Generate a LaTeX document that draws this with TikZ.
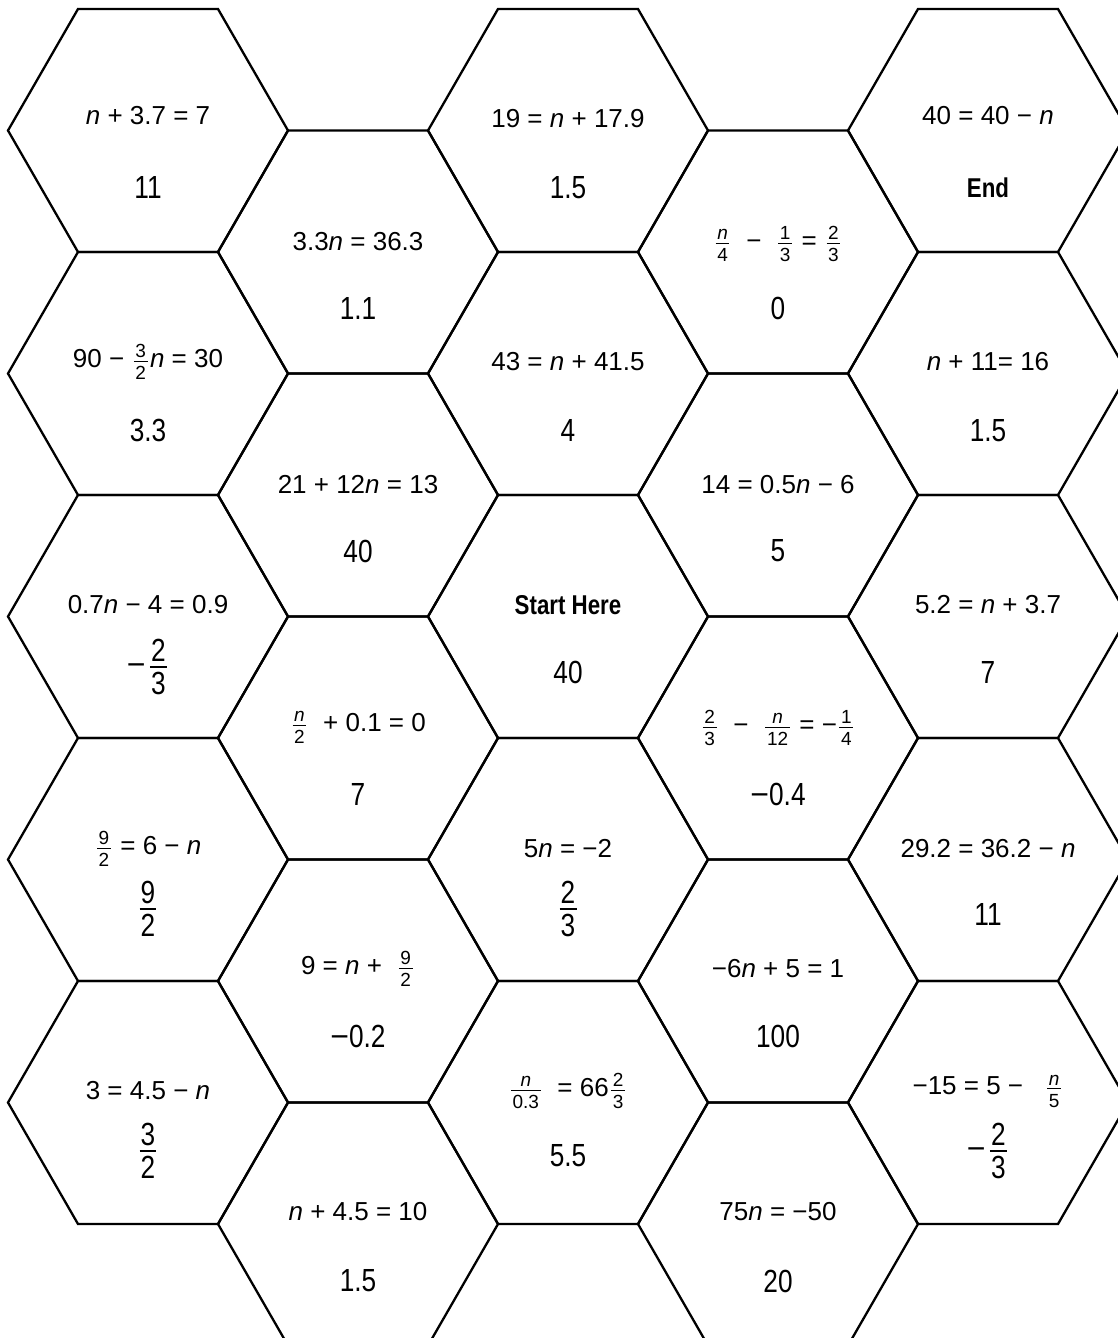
\documentclass[tikz,border=0pt]{standalone}
\usepackage{amsmath}
\usepackage{fontspec}
\setmainfont{Liberation Sans}
\newfontfamily\narrowfont{Liberation Sans}[FakeStretch=0.82]
\usepackage{tikz}

\newcommand\nv{\textit{n}}
% wide minus for the answers
\newcommand\amin{{\rmfamily −}}
% small fraction inside an equation
\newcommand\fr[2]{$\genfrac{}{}{0.5pt}{1}%
  {\hbox{\fontsize{9.5}{11}\selectfont\kern0.8pt#1\kern0.8pt}\rule[-1.2pt]{0pt}{0pt}}%
  {\hbox{\fontsize{9.5}{11}\selectfont\kern0.8pt#2\kern0.8pt\rule{0pt}{8.3pt}}}$}
% full size fraction as an answer
\newcommand\bigfr[2]{$\genfrac{}{}{0.8pt}{1}%
  {\hbox{\kern0.6pt#1\kern0.6pt}\rule[-1pt]{0pt}{0pt}}%
  {\hbox{\kern0.6pt#2\kern0.6pt\rule{0pt}{12.6pt}}}$}

\tikzset{
  hexline/.style={line width=1.15pt, line join=miter},
  eqtext/.style={inner sep=0pt, font=\fontsize{13}{15}\selectfont},
  anstext/.style={inner sep=0pt, font=\narrowfont\fontsize{16}{19}\selectfont},
  marktext/.style={inner sep=0pt, font=\narrowfont\bfseries\fontsize{13.6}{16}\selectfont},
}

\begin{document}
\begin{tikzpicture}[x=0.5pt, y=-0.5pt]
\useasboundingbox (0,0) rectangle (1118,1338);
\clip (0,0) rectangle (1118,1338);
% hexagon outlines (odd columns sit half a cell higher)
\foreach \cx/\cy in {148/130.5, 568/130.5, 988/130.5, 358/252, 778/252}
  \foreach \r in {0,...,4}
    \draw[hexline, shift={(\cx,{\cy+243*\r})}] (140,0) -- (70,-121.5) -- (-70,-121.5) -- (-140,0) -- (-70,121.5) -- (70,121.5) -- cycle;

% column 1
\node[eqtext] (eq-1-1) at (148,116) {\nv{} + 3.7 = 7};
\node[anstext] (ans-1-1) at (148,187.5) {11};
\node[eqtext] (eq-1-2) at (148,362) {90 − \fr{3}{2}\nv{} = 30};
\node[anstext] (ans-1-2) at (148,430.5) {3.3};
\node[eqtext] (eq-1-3) at (148,605) {0.7\nv{} − 4 = 0.9};
\node[anstext] (ans-1-3) at (148,667) {\amin\kern1pt\bigfr{2}{3}};
\node[eqtext] (eq-1-4) at (148,849) {\fr{9}{2} = 6 − \nv};
\node[anstext] (ans-1-4) at (148,909) {\bigfr{9}{2}};
\node[eqtext] (eq-1-5) at (148,1090.5) {3 = 4.5 − \nv};
\node[anstext] (ans-1-5) at (148,1151) {\bigfr{3}{2}};

% column 2
\node[eqtext] (eq-2-1) at (358,242) {3.3\nv{} = 36.3};
\node[anstext] (ans-2-1) at (358,308) {1.1};
\node[eqtext] (eq-2-2) at (358,485) {21 + 12\nv{} = 13};
\node[anstext] (ans-2-2) at (358,551) {40};
\node[eqtext] (eq-2-3) at (358,727) {\fr{\nv}{2}\ \ + 0.1 = 0};
\node[anstext] (ans-2-3) at (358,794) {7};
\node[eqtext] (eq-2-4) at (358,969) {9 = \nv{} +\ \ \fr{9}{2}};
\node[anstext] (ans-2-4) at (358,1036) {\amin0.2};
\node[eqtext] (eq-2-5) at (358,1212) {\nv{} + 4.5 = 10};
\node[anstext] (ans-2-5) at (358,1281) {1.5};

% column 3
\node[eqtext] (eq-3-1) at (568,118.5) {19 = \nv{} + 17.9};
\node[anstext] (ans-3-1) at (568,187.5) {1.5};
\node[eqtext] (eq-3-2) at (568,362) {43 = \nv{} + 41.5};
\node[anstext] (ans-3-2) at (568,430.5) {4};
\node[marktext] (eq-3-3) at (568,605) {Start Here};
\node[anstext] (ans-3-3) at (568,672) {40};
\node[eqtext] (eq-3-4) at (568,849) {5\nv{} = −2};
\node[anstext] (ans-3-4) at (568,909) {\bigfr{2}{3}};
\node[eqtext] (eq-3-5) at (568,1091) {\fr{\nv}{0.3}\ \ = 66\fr{2}{3}};
\node[anstext] (ans-3-5) at (568,1156) {5.5};

% column 4
\node[eqtext] (eq-4-1) at (778,244) {\fr{\nv}{4}\ \ −\ \ \fr{1}{3} = \fr{2}{3}};
\node[anstext] (ans-4-1) at (778,308) {0};
\node[eqtext] (eq-4-2) at (778,485) {14 = 0.5\nv{} − 6};
\node[anstext] (ans-4-2) at (778,551) {5};
\node[eqtext] (eq-4-3) at (778,728) {\fr{2}{3}\ \ −\ \ \fr{\nv}{12} = −\fr{1}{4}};
\node[anstext] (ans-4-3) at (778,794) {\amin0.4};
\node[eqtext] (eq-4-4) at (778,969) {−6\nv{} + 5 = 1};
\node[anstext] (ans-4-4) at (778,1036) {100};
\node[eqtext] (eq-4-5) at (778,1212) {75\nv{} = −50};
\node[anstext] (ans-4-5) at (778,1281) {20};

% column 5
\node[eqtext] (eq-5-1) at (988,116) {40 = 40 − \nv};
\node[marktext] (ans-5-1) at (988,188) {End};
\node[eqtext] (eq-5-2) at (988,362) {\nv{} + 11= 16};
\node[anstext] (ans-5-2) at (988,430.5) {1.5};
\node[eqtext] (eq-5-3) at (988,605) {5.2 = \nv{} + 3.7};
\node[anstext] (ans-5-3) at (988,672) {7};
\node[eqtext] (eq-5-4) at (988,849) {29.2 = 36.2 − \nv};
\node[anstext] (ans-5-4) at (988,914) {11};
\node[eqtext] (eq-5-5) at (988,1091) {−15 = 5 −\ \ \ \fr{\nv}{5}};
\node[anstext] (ans-5-5) at (988,1151) {\amin\kern1pt\bigfr{2}{3}};
\end{tikzpicture}
\end{document}
